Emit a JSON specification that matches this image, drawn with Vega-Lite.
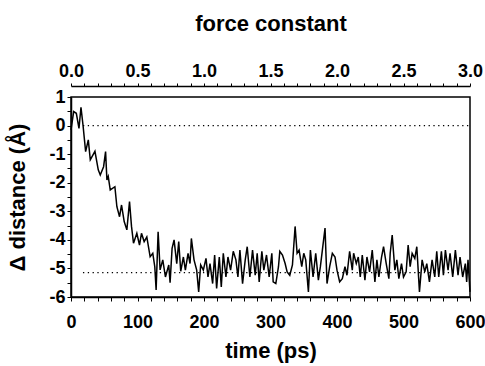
{
  "$schema": "https://vega.github.io/schema/vega-lite/v6.json",
  "width": 399,
  "height": 200,
  "autosize": {"type": "none"},
  "padding": {"left": 71, "top": 97, "right": 15, "bottom": 69},
  "background": "white",
  "config": {
    "view": {"stroke": "black", "strokeWidth": 1.5},
    "axis": {
      "grid": false,
      "domainColor": "black",
      "domainWidth": 1.5,
      "tickColor": "black",
      "tickWidth": 1,
      "tickSize": 4,
      "labelFont": "Liberation Sans",
      "labelFontWeight": "bold",
      "labelFontSize": 18,
      "labelColor": "black",
      "titleFont": "Liberation Sans",
      "titleFontWeight": "bold",
      "titleFontSize": 22,
      "titleColor": "black"
    }
  },
  "datasets": {
    "series": [
      {"time": 0, "delta": -0.15}, {"time": 4, "delta": 0.49}, {"time": 8, "delta": 0.43}, {"time": 12, "delta": -0.1},
      {"time": 15, "delta": 0.64}, {"time": 18, "delta": 0.03}, {"time": 22, "delta": -0.91}, {"time": 26, "delta": -0.5},
      {"time": 29, "delta": -1.2}, {"time": 36, "delta": -0.9}, {"time": 41, "delta": -1.55}, {"time": 44, "delta": -1.73},
      {"time": 49, "delta": -1.44}, {"time": 52, "delta": -0.91}, {"time": 54, "delta": -1.9}, {"time": 56, "delta": -1.78},
      {"time": 59, "delta": -2.25}, {"time": 66, "delta": -2.14}, {"time": 69, "delta": -2.84}, {"time": 73, "delta": -3.19},
      {"time": 76, "delta": -2.78}, {"time": 80, "delta": -3.36}, {"time": 84, "delta": -3.65}, {"time": 88, "delta": -2.66},
      {"time": 91, "delta": -3.53}, {"time": 94, "delta": -4.12}, {"time": 99, "delta": -3.77}, {"time": 103, "delta": -4.18},
      {"time": 106, "delta": -3.77}, {"time": 110, "delta": -4.06}, {"time": 114, "delta": -3.9}, {"time": 119, "delta": -4.59},
      {"time": 123, "delta": -4.47}, {"time": 126, "delta": -4.94}, {"time": 128, "delta": -5.75}, {"time": 131, "delta": -3.72},
      {"time": 134, "delta": -5.05}, {"time": 138, "delta": -4.7}, {"time": 142, "delta": -5.3}, {"time": 147, "delta": -4.88},
      {"time": 149, "delta": -5.5}, {"time": 152, "delta": -4.3}, {"time": 155, "delta": -4.0}, {"time": 159, "delta": -4.83},
      {"time": 162, "delta": -4.06}, {"time": 165, "delta": -5.1}, {"time": 169, "delta": -4.6}, {"time": 172, "delta": -5.06},
      {"time": 176, "delta": -4.47}, {"time": 179, "delta": -4.83}, {"time": 181, "delta": -3.95}, {"time": 185, "delta": -4.7},
      {"time": 189, "delta": -5.06}, {"time": 192, "delta": -5.82}, {"time": 195, "delta": -4.88}, {"time": 199, "delta": -5.06},
      {"time": 203, "delta": -4.65}, {"time": 206, "delta": -5.3}, {"time": 209, "delta": -4.83}, {"time": 213, "delta": -5.53},
      {"time": 216, "delta": -4.53}, {"time": 219, "delta": -5.7}, {"time": 223, "delta": -4.6}, {"time": 226, "delta": -5.65},
      {"time": 229, "delta": -4.47}, {"time": 233, "delta": -5.3}, {"time": 236, "delta": -4.6}, {"time": 240, "delta": -5.06},
      {"time": 244, "delta": -4.4}, {"time": 248, "delta": -4.7}, {"time": 251, "delta": -5.3}, {"time": 254, "delta": -4.36},
      {"time": 258, "delta": -5.53}, {"time": 262, "delta": -4.7}, {"time": 265, "delta": -4.24}, {"time": 269, "delta": -5.3},
      {"time": 273, "delta": -4.36}, {"time": 277, "delta": -5.24}, {"time": 280, "delta": -4.47}, {"time": 283, "delta": -5.47},
      {"time": 287, "delta": -4.4}, {"time": 290, "delta": -5.06}, {"time": 294, "delta": -4.53}, {"time": 298, "delta": -5.3},
      {"time": 302, "delta": -4.47}, {"time": 304, "delta": -5.47}, {"time": 308, "delta": -5.53}, {"time": 312, "delta": -4.94},
      {"time": 314, "delta": -4.4}, {"time": 318, "delta": -4.53}, {"time": 322, "delta": -4.83}, {"time": 325, "delta": -5.12},
      {"time": 329, "delta": -5.24}, {"time": 333, "delta": -4.88}, {"time": 337, "delta": -3.53}, {"time": 340, "delta": -4.47},
      {"time": 343, "delta": -4.36}, {"time": 347, "delta": -4.94}, {"time": 350, "delta": -4.47}, {"time": 353, "delta": -4.7},
      {"time": 357, "delta": -5.82}, {"time": 360, "delta": -4.36}, {"time": 364, "delta": -5.3}, {"time": 368, "delta": -4.47},
      {"time": 372, "delta": -5.41}, {"time": 375, "delta": -4.94}, {"time": 378, "delta": -4.36}, {"time": 382, "delta": -3.59},
      {"time": 385, "delta": -5.53}, {"time": 389, "delta": -4.94}, {"time": 393, "delta": -4.47}, {"time": 397, "delta": -4.6},
      {"time": 400, "delta": -5.06}, {"time": 404, "delta": -5.47}, {"time": 408, "delta": -5.36}, {"time": 412, "delta": -4.94},
      {"time": 415, "delta": -5.24}, {"time": 419, "delta": -4.4}, {"time": 423, "delta": -5.06}, {"time": 425, "delta": -4.47},
      {"time": 429, "delta": -4.83}, {"time": 432, "delta": -4.6}, {"time": 435, "delta": -5.3}, {"time": 438, "delta": -4.53},
      {"time": 442, "delta": -5.41}, {"time": 445, "delta": -4.6}, {"time": 449, "delta": -5.12}, {"time": 453, "delta": -4.36},
      {"time": 457, "delta": -5.47}, {"time": 460, "delta": -4.7}, {"time": 463, "delta": -5.3}, {"time": 467, "delta": -4.6},
      {"time": 470, "delta": -4.24}, {"time": 474, "delta": -4.83}, {"time": 478, "delta": -5.36}, {"time": 480, "delta": -4.47},
      {"time": 483, "delta": -3.83}, {"time": 487, "delta": -5.06}, {"time": 490, "delta": -4.7}, {"time": 493, "delta": -5.36},
      {"time": 497, "delta": -4.83}, {"time": 500, "delta": -5.3}, {"time": 504, "delta": -5.12}, {"time": 507, "delta": -4.18},
      {"time": 510, "delta": -4.94}, {"time": 513, "delta": -4.47}, {"time": 517, "delta": -4.65}, {"time": 520, "delta": -4.24},
      {"time": 524, "delta": -5.82}, {"time": 528, "delta": -4.7}, {"time": 532, "delta": -5.12}, {"time": 535, "delta": -4.83},
      {"time": 539, "delta": -5.47}, {"time": 543, "delta": -4.7}, {"time": 547, "delta": -5.3}, {"time": 550, "delta": -4.4},
      {"time": 553, "delta": -5.3}, {"time": 557, "delta": -4.4}, {"time": 560, "delta": -5.24}, {"time": 563, "delta": -4.36},
      {"time": 567, "delta": -5.06}, {"time": 570, "delta": -4.47}, {"time": 574, "delta": -5.3}, {"time": 578, "delta": -4.36},
      {"time": 582, "delta": -5.24}, {"time": 585, "delta": -4.6}, {"time": 589, "delta": -5.3}, {"time": 593, "delta": -4.83},
      {"time": 595, "delta": -5.47}, {"time": 597, "delta": -4.7}, {"time": 600, "delta": -5.82}
    ],
    "refs": [
      {"time": 18, "time2": 600, "delta": 0},
      {"time": 18, "time2": 600, "delta": -5.15}
    ],
    "force": [
      {"force": 0}, {"force": 3}
    ]
  },
  "layer": [
    {
      "layer": [
        {
          "data": {"name": "refs"},
          "mark": {"type": "rule", "color": "black", "strokeWidth": 1.3, "strokeDash": [1.3, 3.5]},
          "encoding": {
            "x": {"field": "time", "type": "quantitative", "scale": {"domain": [0, 600], "nice": false, "zero": false},
                  "axis": {"orient": "bottom", "title": "time (ps)", "values": [0,20,40,60,80,100,120,140,160,180,200,220,240,260,280,300,320,340,360,380,400,420,440,460,480,500,520,540,560,580,600],
                           "labelExpr": "datum.value % 100 === 0 ? '' + datum.value : ''", "labelPadding": 12, "titlePadding": 9, "labelFlush": false}},
            "x2": {"field": "time2"},
            "y": {"field": "delta", "type": "quantitative", "scale": {"domain": [-6, 1], "nice": false, "zero": false},
                  "axis": {"title": "\u0394 distance (\u00c5)", "values": [-6,-5.5,-5,-4.5,-4,-3.5,-3,-2.5,-2,-1.5,-1,-0.5,0,0.5,1],
                           "labelExpr": "datum.value % 1 === 0 ? '' + datum.value : ''", "labelPadding": 2, "titlePadding": 19, "labelFlush": false}}
          }
        },
        {
          "data": {"name": "series"},
          "mark": {"type": "line", "color": "black", "strokeWidth": 1.5},
          "encoding": {
            "x": {"field": "time", "type": "quantitative", "scale": {"domain": [0, 600], "nice": false, "zero": false},
                  "axis": {"orient": "bottom", "title": "time (ps)", "values": [0,20,40,60,80,100,120,140,160,180,200,220,240,260,280,300,320,340,360,380,400,420,440,460,480,500,520,540,560,580,600],
                           "labelExpr": "datum.value % 100 === 0 ? '' + datum.value : ''", "labelPadding": 12, "titlePadding": 9, "labelFlush": false}},
            "y": {"field": "delta", "type": "quantitative", "scale": {"domain": [-6, 1], "nice": false, "zero": false},
                  "axis": {"title": "\u0394 distance (\u00c5)", "values": [-6,-5.5,-5,-4.5,-4,-3.5,-3,-2.5,-2,-1.5,-1,-0.5,0,0.5,1],
                           "labelExpr": "datum.value % 1 === 0 ? '' + datum.value : ''", "labelPadding": 2, "titlePadding": 19, "labelFlush": false}}
          }
        }
      ]
    },
    {
      "data": {"name": "force"},
      "mark": {"type": "point", "opacity": 0},
      "encoding": {
        "x": {"field": "force", "type": "quantitative", "scale": {"domain": [0, 3], "nice": false, "zero": false},
              "axis": {"orient": "top", "title": "force constant", "offset": 11, "tickSize": 3,
                       "values": [0,0.1,0.2,0.3,0.4,0.5,0.6,0.7,0.8,0.9,1,1.1,1.2,1.3,1.4,1.5,1.6,1.7,1.8,1.9,2,2.1,2.2,2.3,2.4,2.5,2.6,2.7,2.8,2.9,3],
                       "labelExpr": "round(datum.value * 10) % 5 === 0 ? format(datum.value, '.1f') : ''", "labelPadding": 3, "titlePadding": 27, "labelFlush": false}}
      }
    }
  ],
  "resolve": {"scale": {"x": "independent"}}
}
